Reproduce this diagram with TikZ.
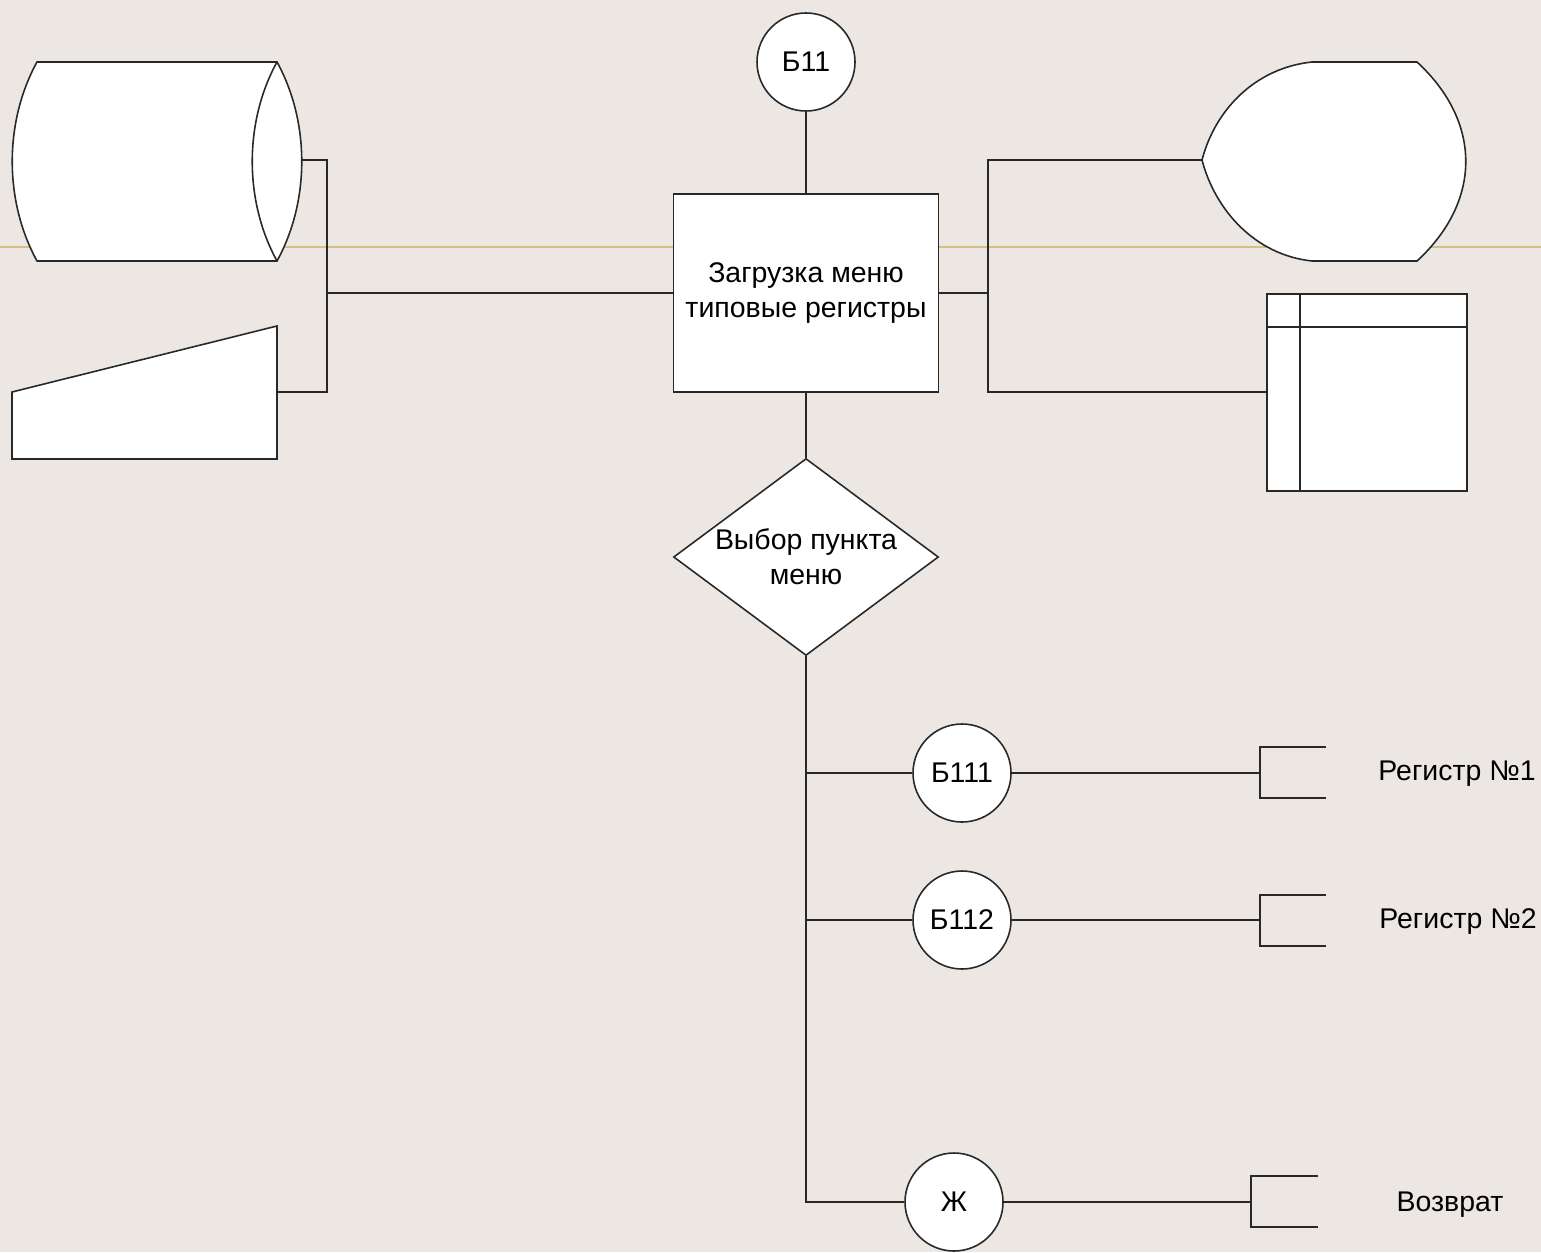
\documentclass[tikz,border=0pt]{standalone}
\usepackage{fontspec}
\setmainfont{Liberation Sans}
\usetikzlibrary{shapes.geometric, positioning}

\definecolor{bgcol}{RGB}{236,231,227}
\definecolor{guide}{RGB}{212,192,134}
\definecolor{ink}{RGB}{40,40,40}

\begin{document}
\begin{tikzpicture}[
    x=0.1mm, y=-0.1mm,
    every node/.style={font=\fontsize{8.1}{10}\selectfont},
    line/.style={
        draw=ink, line width=.45pt
    },
    shp/.style={
        draw=ink, line width=.45pt, fill=white
    },
    proc/.style={
        shp, rectangle, inner sep=0pt, minimum width=26.5mm, minimum height=19.8mm, align=center
    },
    dec/.style={
        shp, diamond, aspect=1.345, inner sep=0pt, minimum width=26.5mm, minimum height=19.7mm, align=center
    },
    conn/.style={
        shp, circle, inner sep=0pt, minimum size=9.8mm
    },
    note/.style={
        inner sep=0pt, anchor=base
    }
]

    \useasboundingbox (0,0) rectangle (1541,1252);
    \fill[bgcol] (0,0) rectangle (1541,1252);
    \draw[guide, line width=.5pt] (0,247) -- (1541,247);

    % drum
    \draw[shp] (37,62) -- (277,62) .. controls (310,122) and (310,201) .. (277,261)
        -- (37,261) .. controls (4,201) and (4,122) .. cycle;
    \draw[line] (277,62) .. controls (244,122) and (244,201) .. (277,261);
    \coordinate (drum) at (302,160);

    % manual input
    \draw[shp] (12,392) -- (277,326) -- (277,459) -- (12,459) -- cycle;
    \coordinate (manual) at (277,392);

    % display
    \draw[shp] (1202,160) .. controls (1215,110) and (1255,68) .. (1312,62) -- (1417,62)
        .. controls (1482,122) and (1482,201) .. (1417,261) -- (1312,261)
        .. controls (1255,255) and (1215,210) .. cycle;
    \coordinate (disp) at (1202,160);

    % table
    \draw[shp] (1267,294) rectangle (1467,491);
    \draw[line] (1300,294) -- (1300,491) (1267,327) -- (1467,327);
    \coordinate (tab) at (1267,392);

    \node[conn] (b11) at (806,62) {Б11};
    \node[proc] (load) at (806,293) {Загрузка меню\\типовые регистры};
    \node[dec] (menu) at (806,557) {Выбор пункта\\меню};
    \node[conn] (b111) at (962,773) {Б111};
    \node[conn] (b112) at (962,920) {Б112};
    \node[conn] (zh) at (954,1202) {Ж};

    \coordinate (ljoin) at (327,293);
    \coordinate (rjoin) at (988,293);
    \coordinate (c1) at (1260,773);
    \coordinate (c2) at (1260,920);
    \coordinate (c3) at (1251,1202);

    \draw[line] (b11) -- (load);
    \draw[line] (load) -- (menu);
    \draw[line] (drum) -| (ljoin) |- (manual);
    \draw[line] (ljoin) -- (load);
    \draw[line] (load) -- (rjoin);
    \draw[line] (disp) -| (rjoin) |- (tab);

    \draw[line] (menu.south) |- (zh);
    \draw[line] (menu.south |- b111) -- (b111);
    \draw[line] (menu.south |- b112) -- (b112);

    \draw[line] (b111) -- (c1);
    \draw[line] (b112) -- (c2);
    \draw[line] (zh) -- (c3);
    \draw[line] (1326,747) -| (1260,798) -- (1326,798);
    \draw[line] (1326,895) -| (1260,946) -- (1326,946);
    \draw[line] (1318,1176) -| (1251,1227) -- (1318,1227);

    \node[note] (reg1) at (1457,780) {Регистр №1};
    \node[note] (reg2) at (1458,928) {Регистр №2};
    \node[note] (ret) at (1450,1211) {Возврат};

\end{tikzpicture}
\end{document}
